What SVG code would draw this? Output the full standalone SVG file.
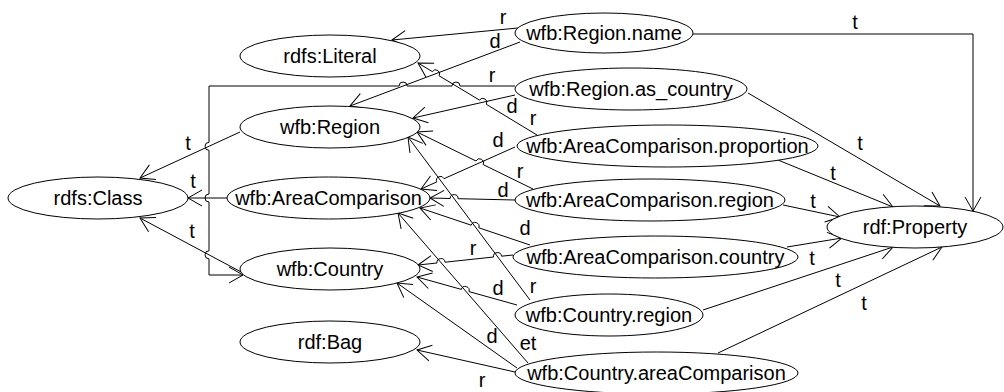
<svg xmlns="http://www.w3.org/2000/svg" width="1004" height="392" viewBox="0 0 1004 392">
<style>
.n ellipse{fill:#fff;stroke:#000;stroke-width:1}
text{font-family:"Liberation Sans",Arial,sans-serif;font-size:20px;fill:#000;text-anchor:middle}
.e path{fill:none;stroke:#000;stroke-width:1;marker-end:url(#arr)}
</style>
<defs>
<marker id="arr" viewBox="-16 -10 20 20" refX="0" refY="0" markerWidth="20" markerHeight="20" orient="auto" markerUnits="userSpaceOnUse" overflow="visible">
<path d="M-14,-8 L0,0 L-14,8" fill="none" stroke="#000" stroke-width="1"/>
</marker>
</defs>
<g id="connectors" class="e">
<path d="M518,28 L392,40"/>
<path d="M520,42 L350,106"/>
<path d="M693,34 L973,34 L973,211"/>
<path d="M515,86 L460,86 A4,4 0 0 0 452,86 L407.1,86 A4,4 0 0 0 399.1,86 L209,86 L209,142.3 A4,4 0 0 0 209,150.3 L209,194 A4,4 0 0 0 209,202 L209,250.8 A4,4 0 0 0 209,258.8 L209,275 L243,275"/>
<path d="M515,95 L413,118"/>
<path d="M748,93 L940,206"/>
<path d="M537,135 L486.3,104.3 A4,4 0 0 0 479.5,100.1 L439.1,75.8 A4,4 0 0 0 432.3,71.6 L418,63"/>
<path d="M515,147 L444.05,178.67 A4,4 0 0 0 436.75,181.93 L421,189"/>
<path d="M778,160 L893,207"/>
<path d="M533,189 L483.2,164.6 A4,4 0 0 0 476,161 L417,132"/>
<path d="M515,200 L458.1,198.7 A4,4 0 0 0 450.1,198.5 L430,198"/>
<path d="M783,205 L840,217"/>
<path d="M513,255 L501.5,256.2 A4,4 0 0 0 493.5,257 L445,262.2 A4,4 0 0 0 437,263 L418,265"/>
<path d="M530,245 L478.8,227.8 A4,4 0 0 0 471.2,225.2 L420,208"/>
<path d="M787,247 L842,238"/>
<path d="M530,300 L408,137"/>
<path d="M517,305 L469,291.6 A4,4 0 0 0 461.3,289.4 L417,277"/>
<path d="M703,310 L893,247"/>
<path d="M515,372 L417,350"/>
<path d="M517,368 L397,283"/>
<path d="M528,363 L398,213"/>
<path d="M718,353 L942,247"/>
<path d="M240,132 L140,178"/>
<path d="M227,198 L188,198"/>
<path d="M243,273 L140,218"/>
<text x="503" y="24">r</text>
<text x="495" y="48">d</text>
<text x="855" y="29">t</text>
<text x="492" y="82">r</text>
<text x="512" y="113">d</text>
<text x="860" y="150">t</text>
<text x="533" y="125">r</text>
<text x="498" y="147">d</text>
<text x="833" y="180">t</text>
<text x="520" y="178">r</text>
<text x="503" y="197">d</text>
<text x="813" y="208">t</text>
<text x="473" y="255">r</text>
<text x="525" y="235">d</text>
<text x="812" y="265">t</text>
<text x="533" y="293">r</text>
<text x="498" y="295">d</text>
<text x="838" y="287">t</text>
<text x="482" y="387">r</text>
<text x="492" y="343">d</text>
<text x="528" y="350">et</text>
<text x="864" y="310">t</text>
<text x="188" y="150">t</text>
<text x="193" y="188">t</text>
<text x="192" y="238">t</text>
</g>
<g id="n-literal" class="n"><ellipse cx="330" cy="56" rx="90" ry="21"/><text x="330" y="63">rdfs:Literal</text></g>
<g id="n-region" class="n"><ellipse cx="330" cy="127" rx="90" ry="21"/><text x="330" y="134">wfb:Region</text></g>
<g id="n-class" class="n"><ellipse cx="98" cy="198" rx="90" ry="21"/><text x="98" y="205">rdfs:Class</text></g>
<g id="n-areacomparison" class="n"><ellipse cx="328.5" cy="198" rx="101.5" ry="21"/><text x="328.5" y="205">wfb:AreaComparison</text></g>
<g id="n-country" class="n"><ellipse cx="330" cy="269" rx="90" ry="21"/><text x="330" y="276">wfb:Country</text></g>
<g id="n-bag" class="n"><ellipse cx="330" cy="342" rx="90" ry="21"/><text x="330" y="349">rdf:Bag</text></g>
<g id="n-region-name" class="n"><ellipse cx="604" cy="33" rx="89" ry="20"/><text x="604" y="40">wfb:Region.name</text></g>
<g id="n-region-as-country" class="n"><ellipse cx="631" cy="89" rx="116" ry="21"/><text x="631" y="96">wfb:Region.as_country</text></g>
<g id="n-ac-proportion" class="n"><ellipse cx="667.5" cy="146" rx="150.5" ry="21"/><text x="667.5" y="153">wfb:AreaComparison.proportion</text></g>
<g id="n-ac-region" class="n"><ellipse cx="650" cy="200" rx="135" ry="21"/><text x="650" y="207">wfb:AreaComparison.region</text></g>
<g id="n-ac-country" class="n"><ellipse cx="655.5" cy="257" rx="142.5" ry="21"/><text x="655.5" y="264">wfb:AreaComparison.country</text></g>
<g id="n-country-region" class="n"><ellipse cx="609" cy="315" rx="94" ry="21"/><text x="609" y="322">wfb:Country.region</text></g>
<g id="n-country-areacomparison" class="n"><ellipse cx="656.5" cy="373" rx="141.5" ry="21"/><text x="656.5" y="380">wfb:Country.areaComparison</text></g>
<g id="n-property" class="n"><ellipse cx="915" cy="227" rx="88" ry="21"/><text x="915" y="234">rdf:Property</text></g>
</svg>
